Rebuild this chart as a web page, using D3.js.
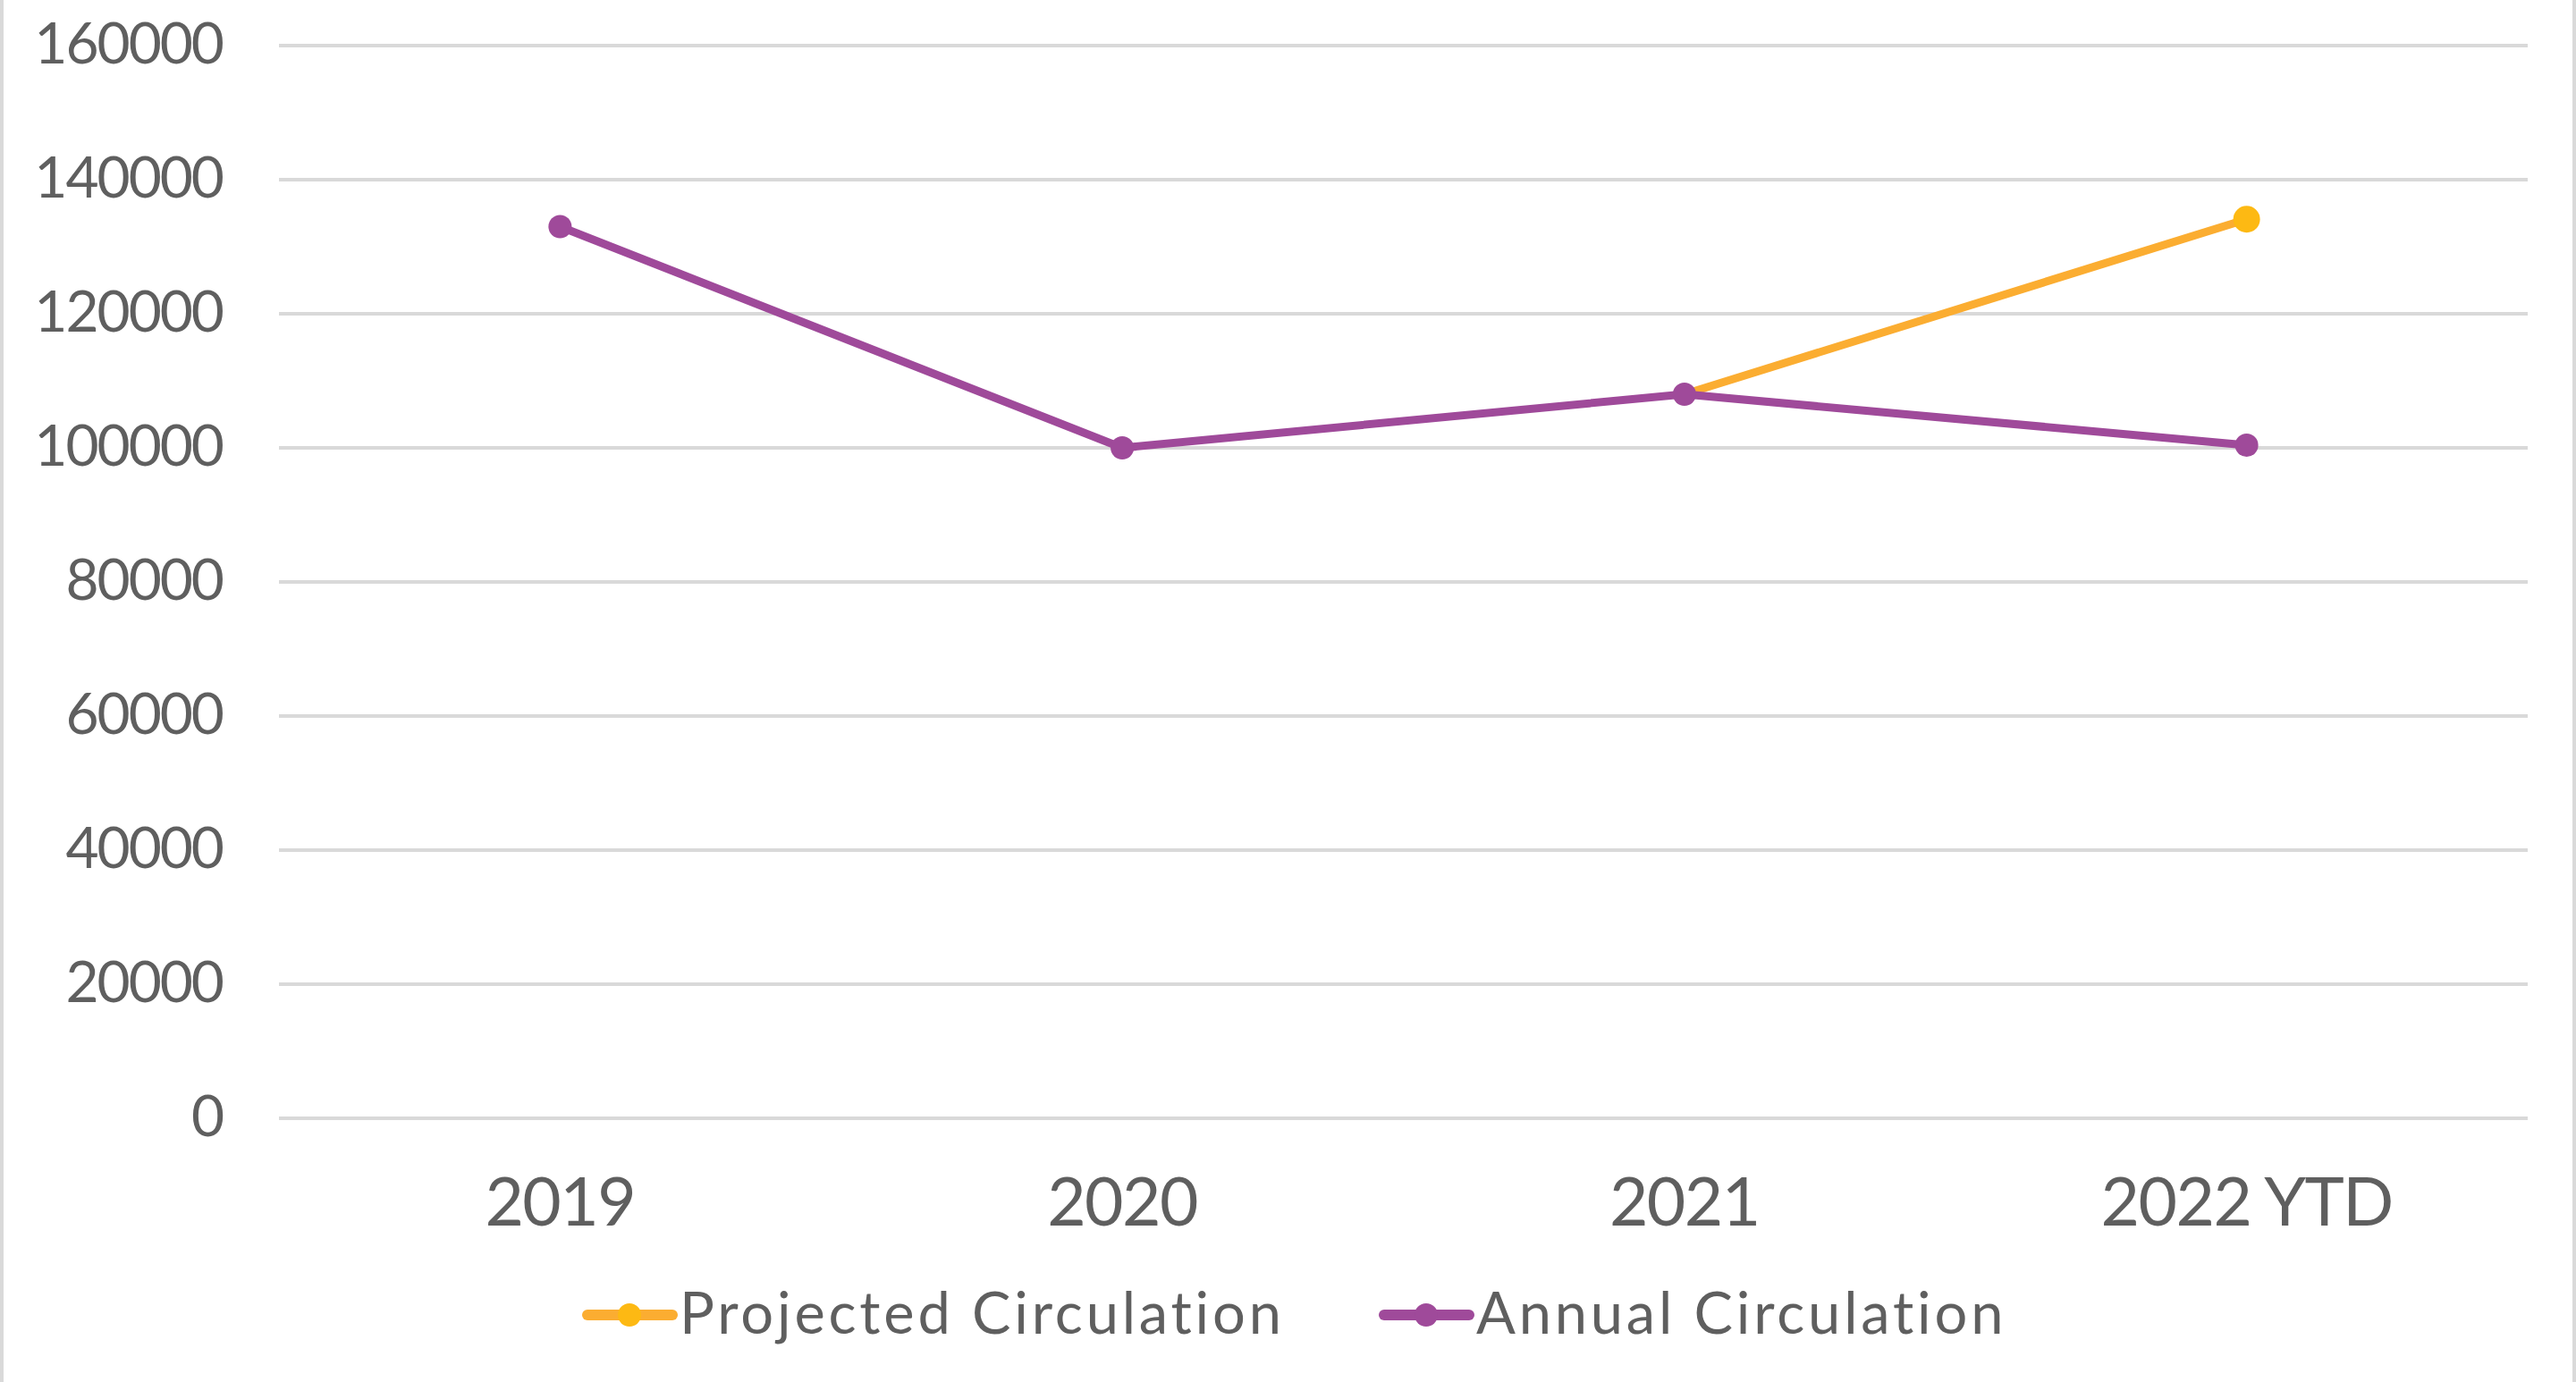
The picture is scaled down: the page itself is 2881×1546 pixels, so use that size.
<!DOCTYPE html>
<html>
<head>
<meta charset="utf-8">
<script src="https://cdn.jsdelivr.net/npm/d3@7"></script>
<style>
  body { margin: 0; background: #fff; }
  text { font-family: "Lato", "Open Sans", sans-serif; font-weight: 400; fill: #5f5f5f; }
</style>
</head>
<body>
<svg width="2881" height="1546"></svg>
<script>
// data
var years = ["2019", "2020", "2021", "2022 YTD"];
var annual = [133000, 100000, 108000, 100400];
var projected = [null, null, 108000, 134100];
var yTicks = [0, 20000, 40000, 60000, 80000, 100000, 120000, 140000, 160000];
var seriesNames = ["Projected Circulation", "Annual Circulation"];

var svg = d3.select("svg"),
    width = +svg.attr("width"),
    height = +svg.attr("height");

svg.append("rect").attr("width", width).attr("height", height).attr("fill", "#fff");
// side borders
svg.append("rect").attr("x", 0).attr("y", 0).attr("width", 4).attr("height", height).attr("fill", "#d9d9d9");
svg.append("rect").attr("x", width - 4).attr("y", 0).attr("width", 4).attr("height", height).attr("fill", "#d9d9d9");

var x = d3.scaleBand().domain(years).range([312, 2827]);
var y = d3.scaleLinear().domain([0, 160000]).range([1251, 51]);
var xc = function(d) { return x(d) + x.bandwidth() / 2; };

// gridlines
svg.append("g")
  .selectAll("line")
  .data(yTicks)
  .enter().append("line")
    .attr("x1", 312).attr("x2", 2827)
    .attr("y1", function(d) { return y(d); })
    .attr("y2", function(d) { return y(d); })
    .attr("stroke", "#d9d9d9")
    .attr("stroke-width", 4);

// y axis labels
svg.append("g")
  .selectAll("text")
  .data(yTicks)
  .enter().append("text")
    .attr("x", 249)
    .attr("y", function(d) { return y(d) - 3; })
    .attr("dy", "0.36em")
    .attr("text-anchor", "end")
    .attr("font-size", 64)
    .attr("letter-spacing", -2)
    .text(function(d) { return d; });

// x axis labels
svg.append("g")
  .selectAll("text")
  .data(years)
  .enter().append("text")
    .attr("x", xc)
    .attr("y", 1371)
    .attr("text-anchor", "middle")
    .attr("font-size", 75)
    .attr("letter-spacing", -1.5)
    .text(function(d) { return d; });

var series = [
  { name: seriesNames[0], values: projected, line: "#fbad31", marker: "#fdb913", r: 15 },
  { name: seriesNames[1], values: annual, line: "#9f4a9a", marker: "#9f4a9a", r: 13 }
];

var line = d3.line()
  .defined(function(d) { return d.v != null; })
  .x(function(d) { return xc(d.k); })
  .y(function(d) { return y(d.v); });

series.forEach(function(s, si) {
  var pts = years.map(function(k, i) { return { k: k, v: s.values[i], i: i }; });
  var g = svg.append("g");
  g.append("path")
    .attr("d", line(pts))
    .attr("fill", "none")
    .attr("stroke", s.line)
    .attr("stroke-width", 9)
    .attr("stroke-linejoin", "round");
  // projected marker where it meets the annual value is hidden in the original
  g.selectAll("circle")
    .data(pts.filter(function(d) { return d.v != null && !(si === 0 && d.v === annual[d.i]); }))
    .enter().append("circle")
      .attr("cx", function(d) { return xc(d.k); })
      .attr("cy", function(d) { return y(d.v); })
      .attr("r", s.r)
      .attr("fill", s.marker);
});

// legend
var legendPos = [652, 1543];
var leg = svg.append("g");
series.forEach(function(s, i) {
  var lx = legendPos[i], ly = 1471;
  leg.append("line")
    .attr("x1", lx + 5).attr("x2", lx + 100)
    .attr("y1", ly).attr("y2", ly)
    .attr("stroke", s.line)
    .attr("stroke-width", 12)
    .attr("stroke-linecap", "round");
  leg.append("circle")
    .attr("cx", lx + 52).attr("cy", ly).attr("r", 13)
    .attr("fill", s.marker);
  leg.append("text")
    .attr("x", lx + 108)
    .attr("y", 1492)
    .attr("font-size", 65)
    .attr("letter-spacing", 3.8)
    .text(s.name);
});
</script>
</body>
</html>
